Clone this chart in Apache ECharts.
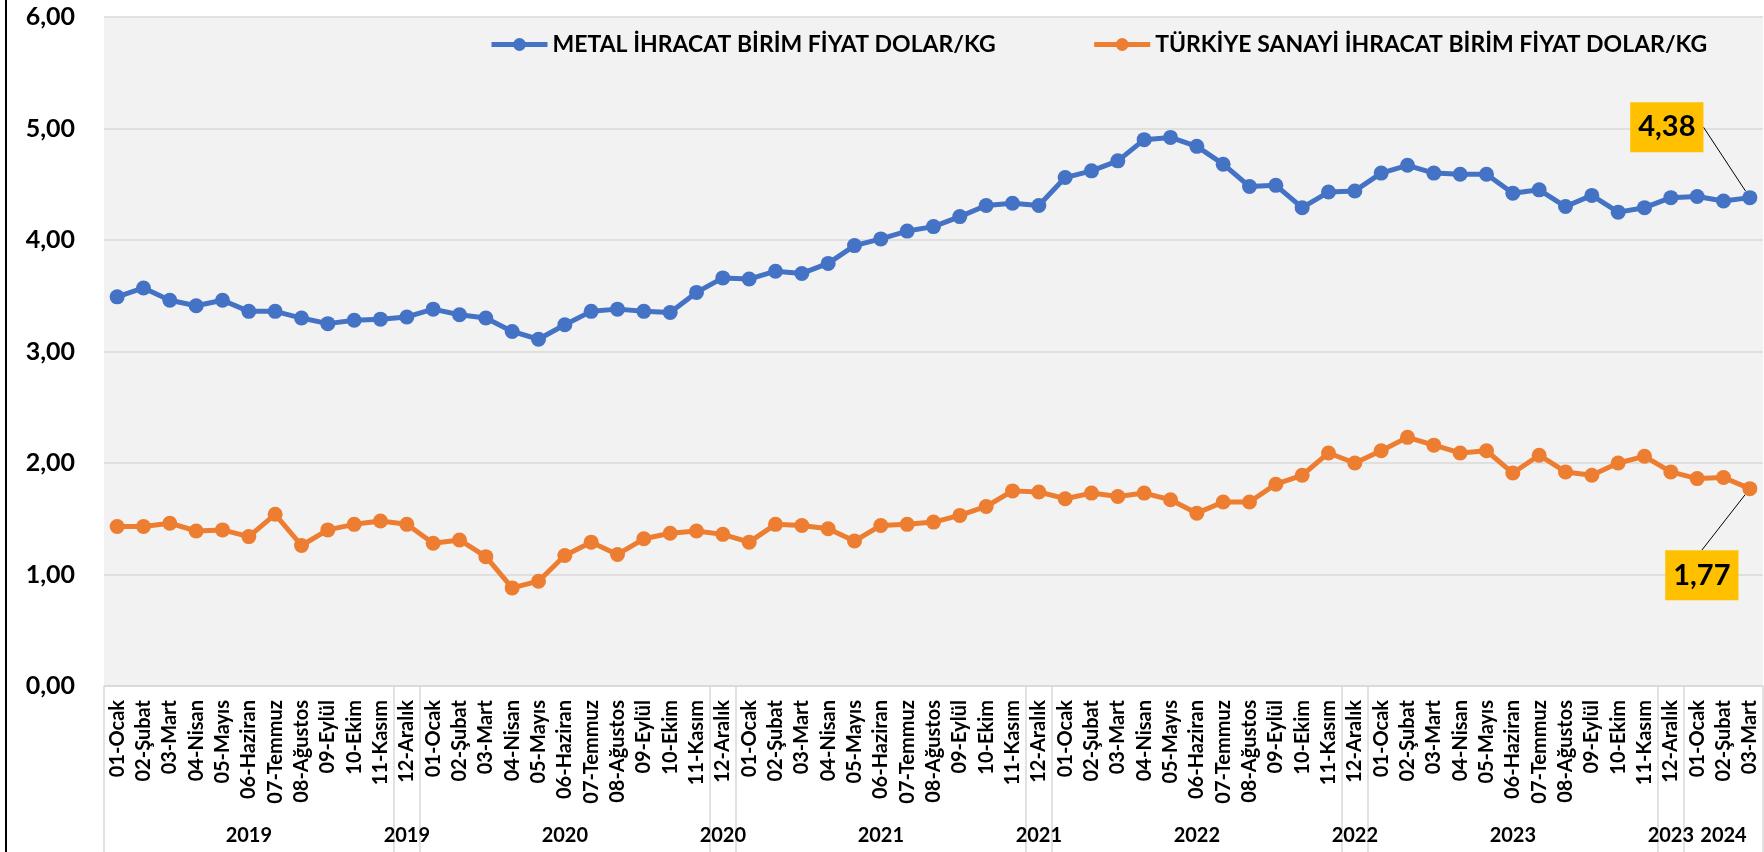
<!DOCTYPE html>
<html>
<head>
<meta charset="utf-8">
<script src="https://cdn.jsdelivr.net/npm/echarts@6/dist/echarts.min.js"></script>
<style>
    html, body { margin: 0; padding: 0; background: #fff; }
    #main { width: 1764px; height: 852px; }
</style>
</head>
<body>
<div id="main"></div>
<script>
// aylar ve yıllar
var monthNames = ['01-Ocak', '02-Şubat', '03-Mart', '04-Nisan', '05-Mayıs', '06-Haziran',
    '07-Temmuz', '08-Ağustos', '09-Eylül', '10-Ekim', '11-Kasım', '12-Aralık'];
var years = [2019, 2020, 2021, 2022, 2023, 2024];
var lastMonth2024 = 3;

var seriesNames = ['METAL İHRACAT BİRİM FİYAT DOLAR/KG', 'TÜRKİYE SANAYİ İHRACAT BİRİM FİYAT DOLAR/KG'];

var metalData = [
    3.49, 3.57, 3.46, 3.41, 3.46, 3.36, 3.36, 3.30, 3.25, 3.28, 3.29, 3.31,
    3.38, 3.33, 3.30, 3.18, 3.11, 3.24, 3.36, 3.38, 3.36, 3.35, 3.53, 3.66,
    3.65, 3.72, 3.70, 3.79, 3.95, 4.01, 4.08, 4.12, 4.21, 4.31, 4.33, 4.31,
    4.56, 4.62, 4.71, 4.90, 4.92, 4.84, 4.68, 4.48, 4.49, 4.29, 4.43, 4.44,
    4.60, 4.67, 4.60, 4.59, 4.59, 4.42, 4.45, 4.30, 4.40, 4.25, 4.29, 4.38,
    4.39, 4.35, 4.38
];
var sanayiData = [
    1.43, 1.43, 1.46, 1.39, 1.40, 1.34, 1.54, 1.26, 1.40, 1.45, 1.48, 1.45,
    1.28, 1.31, 1.16, 0.88, 0.94, 1.17, 1.29, 1.18, 1.32, 1.37, 1.39, 1.36,
    1.29, 1.45, 1.44, 1.41, 1.30, 1.44, 1.45, 1.47, 1.53, 1.61, 1.75, 1.74,
    1.68, 1.73, 1.70, 1.73, 1.67, 1.55, 1.65, 1.65, 1.81, 1.89, 2.09, 2.00,
    2.11, 2.23, 2.16, 2.09, 2.11, 1.91, 2.07, 1.92, 1.89, 2.00, 2.06, 1.92,
    1.86, 1.87, 1.77
];
var yTicks = [0, 1, 2, 3, 4, 5, 6];

(function () {
    var myChart = echarts.init(document.getElementById('main'));
    var font = 'Lato, "Noto Sans", sans-serif';

    // kategoriler
    var months = [], yearOf = [], monthIdx = [];
    years.forEach(function (y) {
        var n = y === 2024 ? lastMonth2024 : 12;
        for (var m = 0; m < n; m++) {
            months.push(monthNames[m]);
            yearOf.push(String(y));
            monthIdx.push(m);
        }
    });

    // Excel gibi grup: Ocak-Kasım, Aralık ayrı
    var groupStarts = [], groupCenters = [];
    var start = 0;
    for (var i = 1; i <= months.length; i++) {
        if (i === months.length || yearOf[i] !== yearOf[i - 1] || monthIdx[i] === 11 || monthIdx[i - 1] === 11) {
            groupStarts.push(start);
            groupCenters.push(Math.floor((start + i - 1) / 2));
            start = i;
        }
    }

    var last = months.length - 1;
    var fmt = function (v) { return v.toFixed(2).replace('.', ','); };

    function withLastLabel(arr) {
        return arr.map(function (v, i) {
            return i === last ? { value: v, label: { show: true } } : v;
        });
    }

    var labelStyle = {
        show: false,
        formatter: function (p) { return fmt(p.value); },
        backgroundColor: '#FFC000',
        color: '#000',
        fontFamily: font,
        fontWeight: 'bold',
        fontSize: 29,
        lineHeight: 32,
        padding: [9, 8]
    };

    var option = {
        animation: false,
        backgroundColor: '#fff',
        textStyle: { fontFamily: font },
        graphic: [{
            type: 'line',
            shape: { x1: 6, y1: 0, x2: 6, y2: 852 },
            style: { stroke: '#000', lineWidth: 2 }
        }],
        legend: {
            left: 484,
            top: 28,
            itemWidth: 56,
            itemHeight: 16,
            itemGap: 96,
            data: seriesNames,
            lineStyle: { width: 5 },
            textStyle: { fontFamily: font, fontSize: 23, fontWeight: 'bold', color: '#000' }
        },
        grid: {
            left: 104,
            right: 1,
            top: 17,
            bottom: 166,
            show: true,
            backgroundColor: '#F2F2F2',
            borderWidth: 0
        },
        xAxis: [{
            type: 'category',
            position: 'bottom',
            data: months,
            boundaryGap: true,
            axisTick: { show: false },
            axisLine: { onZero: false, lineStyle: { color: '#D9D9D9', width: 1.5 } },
            axisLabel: {
                interval: 0,
                rotate: 90,
                margin: 14,
                color: '#000',
                fontFamily: font,
                fontWeight: 'bold',
                fontSize: 20
            }
        }, {
            type: 'category',
            position: 'bottom',
            data: yearOf,
            boundaryGap: true,
            axisLine: { show: false, onZero: false },
            axisTick: {
                show: true,
                length: 166,
                interval: function (index) { return groupStarts.indexOf(index) >= 0; },
                lineStyle: { color: '#D9D9D9', width: 1.5 }
            },
            axisLabel: {
                interval: function (index) { return groupCenters.indexOf(index) >= 0; },
                margin: 140,
                color: '#000',
                fontFamily: font,
                fontWeight: 'bold',
                fontSize: 20
            }
        }],
        yAxis: {
            type: 'value',
            min: yTicks[0],
            max: yTicks[yTicks.length - 1],
            interval: 1,
            axisLine: { show: false },
            axisTick: { show: false },
            splitLine: { lineStyle: { color: '#D9D9D9', width: 1.5 } },
            axisLabel: {
                margin: 29,
                color: '#000',
                fontFamily: font,
                fontWeight: 'bold',
                fontSize: 25,
                formatter: function (v) { return fmt(v); }
            }
        },
        series: [{
            name: seriesNames[0],
            type: 'line',
            data: withLastLabel(metalData),
            symbol: 'circle',
            symbolSize: 15,
            showAllSymbol: true,
            lineStyle: { width: 5, color: '#4472C4' },
            itemStyle: { color: '#4472C4' },
            label: labelStyle,
            labelLine: { show: true, lineStyle: { color: '#000', width: 1 } },
            labelLayout: { dx: -83, dy: -33 }
        }, {
            name: seriesNames[1],
            type: 'line',
            data: withLastLabel(sanayiData),
            symbol: 'circle',
            symbolSize: 15,
            showAllSymbol: true,
            lineStyle: { width: 5, color: '#ED7D31' },
            itemStyle: { color: '#ED7D31' },
            label: labelStyle,
            labelLine: { show: true, lineStyle: { color: '#000', width: 1 } },
            labelLayout: { dx: -48, dy: 124 }
        }]
    };
    myChart.setOption(option);
    window.addEventListener('resize', function () {
        myChart.resize();
    });
})();
</script>
</body>
</html>
